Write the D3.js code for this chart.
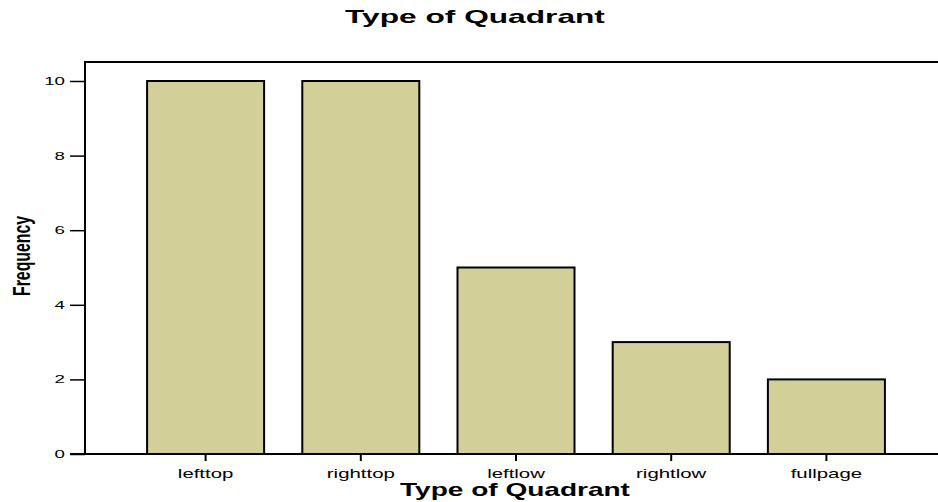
<!DOCTYPE html>
<html>
<head>
<meta charset="utf-8">
<script src="https://cdn.jsdelivr.net/npm/d3@7"></script>
<style>
  body { margin: 0; background: #fff; }
  text { font-family: "Liberation Sans", Arial, sans-serif; fill: #000; }
</style>
</head>
<body>
<script>
// data
var categories = ["lefttop", "righttop", "leftlow", "rightlow", "fullpage"];
var frequencies = [10, 10, 5, 3, 2];
var yTicks = [0, 2, 4, 6, 8, 10];

var width = 938, height = 502;
var margin = { top: 62, left: 85, bottom: 48 };
var plotBottom = height - margin.bottom; // 454
var stretch = 1.7; // the source chart's text is wide, like a stretched picture

var svg = d3.select("body").append("svg")
  .attr("width", width)
  .attr("height", height);

var xScale = d3.scaleBand()
  .domain(categories)
  .range([128, 904])
  .paddingInner(0.246)
  .paddingOuter(0.123);

var yScale = d3.scaleLinear()
  .domain([0, 10])
  .range([plotBottom, 81]);

// bars
svg.append("g").selectAll("rect")
  .data(frequencies)
  .enter()
  .append("rect")
  .attr("x", function (d, i) { return xScale(categories[i]); })
  .attr("y", function (d) { return yScale(d); })
  .attr("width", xScale.bandwidth())
  .attr("height", function (d) { return plotBottom - yScale(d); })
  .attr("fill", "#d3cf99")
  .attr("stroke", "#000")
  .attr("stroke-width", 2);

// frame: top and left lines
svg.append("line")
  .attr("x1", margin.left).attr("x2", width)
  .attr("y1", margin.top).attr("y2", margin.top)
  .attr("stroke", "#000").attr("stroke-width", 2);
svg.append("line")
  .attr("x1", margin.left).attr("x2", margin.left)
  .attr("y1", margin.top - 1).attr("y2", plotBottom)
  .attr("stroke", "#000").attr("stroke-width", 2);

// stretch tick text horizontally around its own x anchor
function widen(sel, sx) {
  sel.attr("transform", function () {
    var x = +d3.select(this).attr("x") || 0;
    return "translate(" + x + ",0) scale(" + sx + ",1) translate(" + (-x) + ",0)";
  });
}

// Y axis ticks
var gY = svg.append("g")
  .attr("transform", "translate(" + margin.left + ",0)")
  .call(d3.axisLeft(yScale).tickValues(yTicks).tickSize(15).tickPadding(5));
gY.select(".domain").remove();
gY.selectAll(".tick line").attr("stroke", "#000").attr("stroke-width", 1.5);
gY.selectAll(".tick text")
  .attr("font-family", "Liberation Sans, Arial, sans-serif")
  .attr("font-size", "11px")
  .call(widen, stretch);

// X axis
var gX = svg.append("g")
  .attr("transform", "translate(0," + plotBottom + ")")
  .call(d3.axisBottom(xScale).tickSize(7).tickPadding(8).tickSizeOuter(0));
gX.select(".domain").remove();
gX.selectAll(".tick line").attr("stroke", "#000").attr("stroke-width", 2);
gX.selectAll(".tick text")
  .attr("font-family", "Liberation Sans, Arial, sans-serif")
  .attr("font-size", "12px")
  .call(widen, stretch);

svg.append("line")
  .attr("x1", 70).attr("x2", width)
  .attr("y1", plotBottom).attr("y2", plotBottom)
  .attr("stroke", "#000").attr("stroke-width", 2);

// fit a label to a target width, centred on cx
function fitText(txt, cx, y, size, targetW) {
  var t = svg.append("text")
    .attr("text-anchor", "middle")
    .attr("font-size", size + "px")
    .attr("font-weight", "bold")
    .text(txt);
  var w = t.node().getComputedTextLength();
  t.attr("transform", "translate(" + cx + "," + y + ") scale(" + (targetW / w) + ",1)");
  return t;
}

fitText("Type of Quadrant", 475, 23, 18, 260);
fitText("Type of Quadrant", 515, 496, 18, 230);

// y axis title, rotated; thicker across than along
var yt = svg.append("text")
  .attr("text-anchor", "middle")
  .attr("font-size", "15.5px")
  .attr("font-weight", "bold")
  .text("Frequency");
var ytLen = yt.node().getComputedTextLength();
yt.attr("transform", "translate(30,256) rotate(-90) scale(" + (80 / ytLen) + ",1.6)");
</script>
</body>
</html>
